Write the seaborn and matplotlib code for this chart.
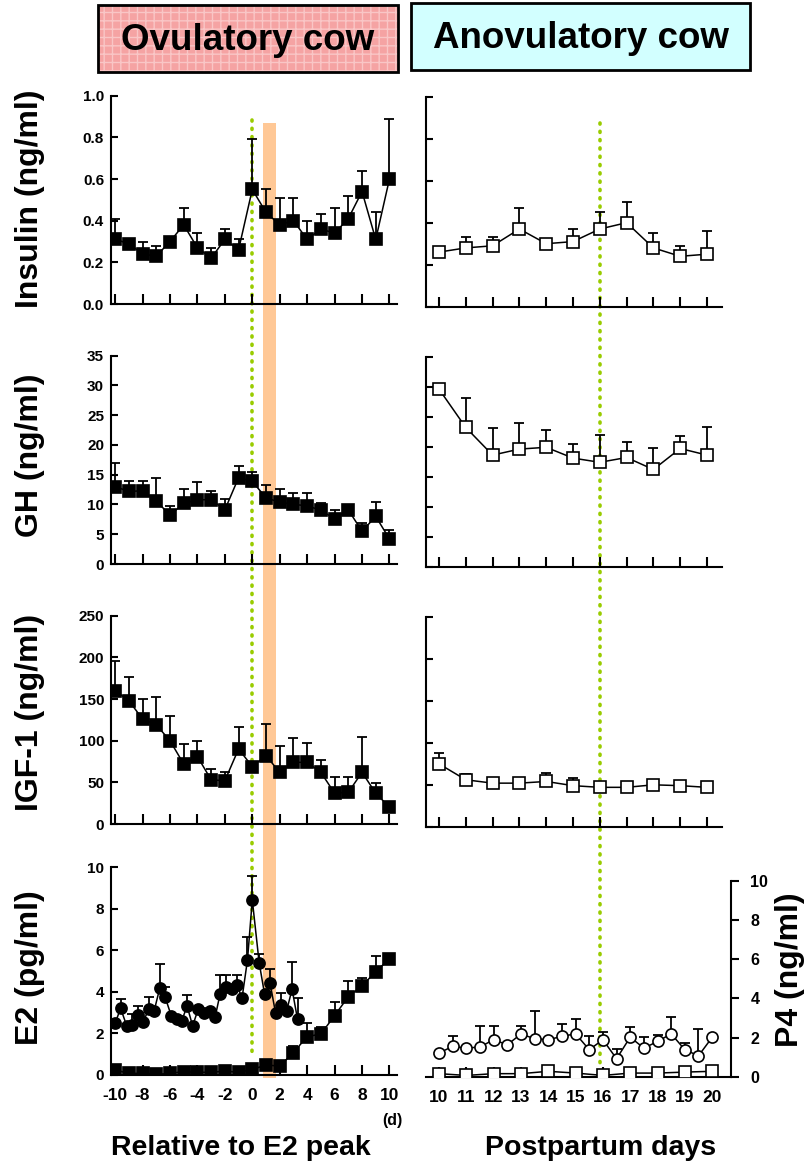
import numpy as np
import matplotlib
matplotlib.use("Agg")
import matplotlib.pyplot as plt
import seaborn as sns
from matplotlib.patches import Rectangle
from matplotlib.lines import Line2D
from matplotlib.transforms import blended_transform_factory

# ---- data ----
days_ov = list(range(-10, 11))
days_an = list(range(10, 21))

ins_ov = [0.31, 0.29, 0.24, 0.23, 0.30, 0.38, 0.27, 0.22, 0.31, 0.26, 0.55,
          0.44, 0.38, 0.40, 0.31, 0.36, 0.34, 0.41, 0.54, 0.31, 0.60]
ins_ov_top = [0.41, np.nan, 0.30, 0.28, np.nan, 0.46, 0.34, 0.27, 0.36, 0.31, 0.79,
              0.55, 0.51, 0.51, 0.40, 0.43, 0.46, 0.52, 0.64, 0.44, 0.89]
ins_an = [0.26, 0.28, 0.29, 0.37, 0.30, 0.31, 0.37, 0.40, 0.28, 0.24, 0.25]
ins_an_top = [np.nan, 0.33, 0.33, 0.47, np.nan, 0.37, 0.45, 0.50, 0.35, 0.29, 0.36]

gh_ov = [13.0, 12.2, 12.3, 10.6, 8.2, 10.2, 10.8, 10.8, 9.1, 14.5, 13.9,
         11.1, 10.4, 10.0, 9.8, 9.0, 7.6, 9.1, 5.5, 8.0, 4.2]
gh_ov_top = [16.9, 13.9, 13.9, 14.4, 9.8, 12.6, 13.7, 12.3, 10.9, 16.4, 15.4,
             13.3, 12.6, 12.0, 12.0, 10.2, 9.0, np.nan, 6.9, 10.4, 5.7]
gh_an = [29.6, 23.2, 18.6, 19.6, 19.9, 18.1, 17.4, 18.2, 16.2, 19.7, 18.6]
gh_an_top = [np.nan, 28.1, 23.1, 24.0, 22.7, 20.4, 21.9, 20.8, 19.7, 21.7, 23.2]

igf_ov = [160, 148, 126, 119, 100, 72, 81, 53, 52, 90, 69,
          82, 62, 74, 74, 62, 37, 38, 62, 37, 20]
igf_ov_top = [196, 177, 150, 152, 130, 96, 100, 66, 62, 117, np.nan,
              120, 94, 103, 97, 77, 56, 56, 105, 49, np.nan]
igf_an = [75, 56, 52, 52, 54, 49, 47, 47, 50, 49, 47]
igf_an_top = [88, 63, np.nan, np.nan, 64, 58, np.nan, np.nan, np.nan, 52, np.nan]

# E2 (circles) around the peak, ovulatory cow
e2_days = [-10, -9.6, -9.15, -8.75, -8.35, -7.95, -7.55, -7.15, -6.75, -6.35,
           -5.9, -5.5, -5.15, -4.75, -4.35, -3.95, -3.5, -3.1, -2.7, -2.35,
           -1.9, -1.5, -1.1, -0.75, -0.35, 0, 0.5, 0.9, 1.3, 1.7,
           2.1, 2.5, 2.9, 3.3]
e2_ov = [2.49, 3.21, 2.36, 2.41, 2.89, 2.57, 3.16, 3.10, 4.17, 3.74,
         2.84, 2.68, 2.60, 3.32, 2.36, 3.16, 2.97, 3.10, 2.81, 3.90,
         4.22, 4.13, 4.33, 3.69, 5.54, 8.43, 5.41, 3.88, 4.41, 2.97,
         3.37, 3.08, 4.13, 2.68]
e2_ov_top = [np.nan, 3.68, np.nan, 2.95, 3.32, np.nan, 3.74, np.nan, 5.34, 4.25,
             np.nan, np.nan, np.nan, 3.85, np.nan, np.nan, np.nan, np.nan, np.nan, 4.81,
             4.81, np.nan, 4.81, np.nan, 6.66, 9.60, 5.83, np.nan, 5.10, np.nan,
             3.96, np.nan, 5.46, 3.72]
# P4 (squares), ovulatory cow
p4_ov = [0.24, 0.08, 0.08, 0.03, 0.08, 0.16, 0.13, 0.13, 0.19, 0.13, 0.27,
         0.48, 0.43, 1.08, 1.85, 1.97, 2.86, 3.77, 4.29, 4.98, 5.59]
p4_ov_top = [np.nan] * 13 + [1.40, 2.49, 2.33, 3.53, 4.53, 4.69, 5.73, np.nan]

# anovulatory cow, bottom panel
e2_an_days = [10, 10.5, 11, 11.5, 12, 12.5, 13, 13.5, 14, 14.5, 15,
              15.5, 16, 16.5, 17, 17.5, 18, 18.5, 19, 19.5, 20]
e2_an = [1.22, 1.56, 1.47, 1.53, 1.90, 1.64, 2.19, 1.95, 1.90, 2.07, 2.20,
         1.39, 1.90, 0.93, 2.03, 1.47, 1.81, 2.20, 1.39, 1.08, 2.02]
e2_an_top = [np.nan, 2.07, np.nan, 2.61, 2.58, np.nan, 2.58, 3.34, np.nan, 2.69, 2.97,
             2.07, 2.29, 1.42, 2.53, 2.02, 2.15, 3.08, 1.73, 2.44, np.nan]
p4_an = [0.17, 0.08, 0.17, 0.17, 0.29, 0.20, 0.08, 0.20, 0.20, 0.25, 0.29]

W, H = 812, 1169
sns.set_style("ticks")
plt.rcParams["font.family"] = ["Liberation Sans", "DejaVu Sans"]
plt.rcParams["font.weight"] = "bold"
plt.rcParams["axes.unicode_minus"] = False
for k in ["text.color", "axes.labelcolor", "xtick.color", "ytick.color", "axes.edgecolor"]:
    plt.rcParams[k] = "black"

fig = plt.figure(figsize=(W / 100, H / 100), dpi=100)


def rect(x0, x1, ytop, ybot):
    return [x0 / W, 1 - ybot / H, (x1 - x0) / W, (ybot - ytop) / H]


def style(ax, xlim, xticks, ylim, yticks, labels_x, labels_y, fmt=None):
    ax.set_facecolor("none")
    ax.set_xlim(*xlim)
    ax.set_ylim(*ylim)
    ax.set_xticks(xticks)
    ax.set_yticks(yticks)
    for s in ["top", "right"]:
        ax.spines[s].set_visible(False)
    for s in ["left", "bottom"]:
        ax.spines[s].set_linewidth(1.5)
        ax.spines[s].set_color("black")
    ax.tick_params(axis="x", direction="in", length=7, width=1.5, labelsize=12.5,
                   labelbottom=labels_x, pad=9)
    ax.tick_params(axis="y", direction="in", length=5, width=1.5, labelsize=11,
                   labelleft=labels_y, pad=5)
    if fmt and labels_y:
        ax.set_yticklabels([fmt.format(t) for t in yticks])
    for t in ax.get_xticklabels() + ax.get_yticklabels():
        t.set_fontweight("bold")
    ax.set_xlabel("")
    ax.set_ylabel("")


def series(ax, x, y, top, marker, filled, ms):
    x = np.asarray(x, float)
    y = np.asarray(y, float)
    top = np.asarray(top, float)
    up = np.where(np.isnan(top), 0, top - y)
    ax.errorbar(x, y, yerr=[np.zeros_like(y), up], fmt="none", ecolor="black",
                elinewidth=1.3, capsize=3.5, capthick=1.3, zorder=2)
    sns.lineplot(x=x, y=y, ax=ax, color="black", linewidth=1.1, marker=marker,
                 markersize=ms, markerfacecolor="black" if filled else "white",
                 markeredgecolor="black", markeredgewidth=1.2, zorder=3)


XL = (-10.3, 10.55)
XR = (9.515, 20.56)
xt_l = list(range(-10, 11, 2))

# left column
ax1 = fig.add_axes(rect(111, 397, 95.7, 304))
series(ax1, days_ov, ins_ov, ins_ov_top, "s", True, 9)
style(ax1, XL, xt_l, (0, 1.0), [0, 0.2, 0.4, 0.6, 0.8, 1.0], False, True, "{:.1f}")

ax2 = fig.add_axes(rect(111, 397, 355.7, 564))
series(ax2, days_ov, gh_ov, gh_ov_top, "s", True, 9)
style(ax2, XL, xt_l, (0, 35), list(range(0, 36, 5)), False, True, "{:d}")

ax3 = fig.add_axes(rect(111, 397, 615.7, 824))
series(ax3, days_ov, igf_ov, igf_ov_top, "s", True, 9)
style(ax3, XL, xt_l, (0, 250), list(range(0, 251, 50)), False, True, "{:d}")

ax4 = fig.add_axes(rect(111, 397, 867.3, 1075))
series(ax4, days_ov, p4_ov, p4_ov_top, "s", True, 9)
series(ax4, e2_days, e2_ov, e2_ov_top, "o", True, 8)
style(ax4, XL, xt_l, (0, 10), list(range(0, 11, 2)), True, True, "{:d}")

# right column
xt_r = list(range(10, 21))
ax5 = fig.add_axes(rect(426, 722, 96.7, 306.7))
series(ax5, days_an, ins_an, ins_an_top, "s", False, 9)
style(ax5, XR, xt_r, (0, 1.0), [0, 0.2, 0.4, 0.6, 0.8, 1.0], False, False)

ax6 = fig.add_axes(rect(426, 722, 356.7, 566.7))
series(ax6, days_an, gh_an, gh_an_top, "s", False, 9)
style(ax6, XR, xt_r, (0, 35), list(range(0, 36, 5)), False, False)

ax7 = fig.add_axes(rect(426, 722, 617.3, 826.7))
series(ax7, days_an, igf_an, igf_an_top, "s", False, 9)
style(ax7, XR, xt_r, (0, 250), list(range(0, 251, 50)), False, False)

ax8 = fig.add_axes(rect(426, 731, 880.7, 1077))
series(ax8, days_an, p4_an, [np.nan] * len(p4_an), "s", False, 9)
series(ax8, e2_an_days, e2_an, e2_an_top, "o", False, 8)
style(ax8, (9.524, 20.69), xt_r, (0, 10), list(range(0, 11, 2)), True, False)
ax8.spines["left"].set_visible(False)
ax8.spines["right"].set_visible(True)
ax8.spines["right"].set_linewidth(1.5)
ax8.yaxis.set_ticks_position("right")
ax8.tick_params(axis="y", which="both", direction="out", length=6, width=1.5,
                labelright=True, labelleft=False, pad=8, labelsize=11.5)
for t in ax8.get_yticklabels():
    t.set_fontweight("bold")

# vertical markers spanning the panels
tl = blended_transform_factory(ax1.transData, fig.transFigure)
fig.add_artist(Rectangle((0.8, 1 - 1078 / H), 0.95, (1078 - 123) / H, transform=tl,
                         facecolor="#ffc896", edgecolor="none", zorder=-2))
dots = dict(color="#99cc00", linewidth=2.6, linestyle=(0, (0.3, 2.0)),
            dash_capstyle="round", zorder=-1)
fig.add_artist(Line2D([0, 0], [1 - 120 / H, 1 - 1058 / H], transform=tl, **dots))
tr = blended_transform_factory(ax5.transData, fig.transFigure)
fig.add_artist(Line2D([16, 16], [1 - 123 / H, 1 - 1068 / H], transform=tr, **dots))

# header boxes
fig.add_artist(Rectangle((98 / W, 1 - 72 / H), 300 / W, 67 / H, transform=fig.transFigure,
                         facecolor="#f5a3a3", edgecolor="#f9c6c6", hatch="++",
                         linewidth=0, zorder=1))
fig.add_artist(Rectangle((98 / W, 1 - 72 / H), 300 / W, 67 / H, transform=fig.transFigure,
                         facecolor="none", edgecolor="black", linewidth=2, zorder=2))
fig.add_artist(Rectangle((411 / W, 1 - 70 / H), 339 / W, 67 / H, transform=fig.transFigure,
                         facecolor="#d2ffff", edgecolor="black", linewidth=2, zorder=2))
fig.text(248 / W, 1 - 40 / H, "Ovulatory cow", ha="center", va="center",
         fontsize=26.5, fontweight="bold", zorder=3)
fig.text(581 / W, 1 - 38 / H, "Anovulatory cow", ha="center", va="center",
         fontsize=26.5, fontweight="bold", zorder=3)

# axis titles
ylab = [("Insulin (ng/ml)", 199), ("GH (ng/ml)", 455), ("IGF-1 (ng/ml)", 712),
        ("E2 (pg/ml)", 968)]
for txt, yc in ylab:
    fig.text(30 / W, 1 - yc / H, txt, rotation=90, ha="center", va="center",
             fontsize=23, fontweight="bold")
fig.text(790 / W, 1 - 970 / H, "P4 (ng/ml)", rotation=90, ha="center", va="center",
         fontsize=23, fontweight="bold")
fig.text(241 / W, 1 - 1148 / H, "Relative to E2 peak", ha="center", va="center",
         fontsize=20.5, fontweight="bold")
fig.text(601 / W, 1 - 1148 / H, "Postpartum days", ha="center", va="center",
         fontsize=20.5, fontweight="bold")
fig.text(392 / W, 1 - 1120 / H, "(d)", ha="center", va="center",
         fontsize=11.5, fontweight="bold")

fig.savefig("out.png", dpi=100)
